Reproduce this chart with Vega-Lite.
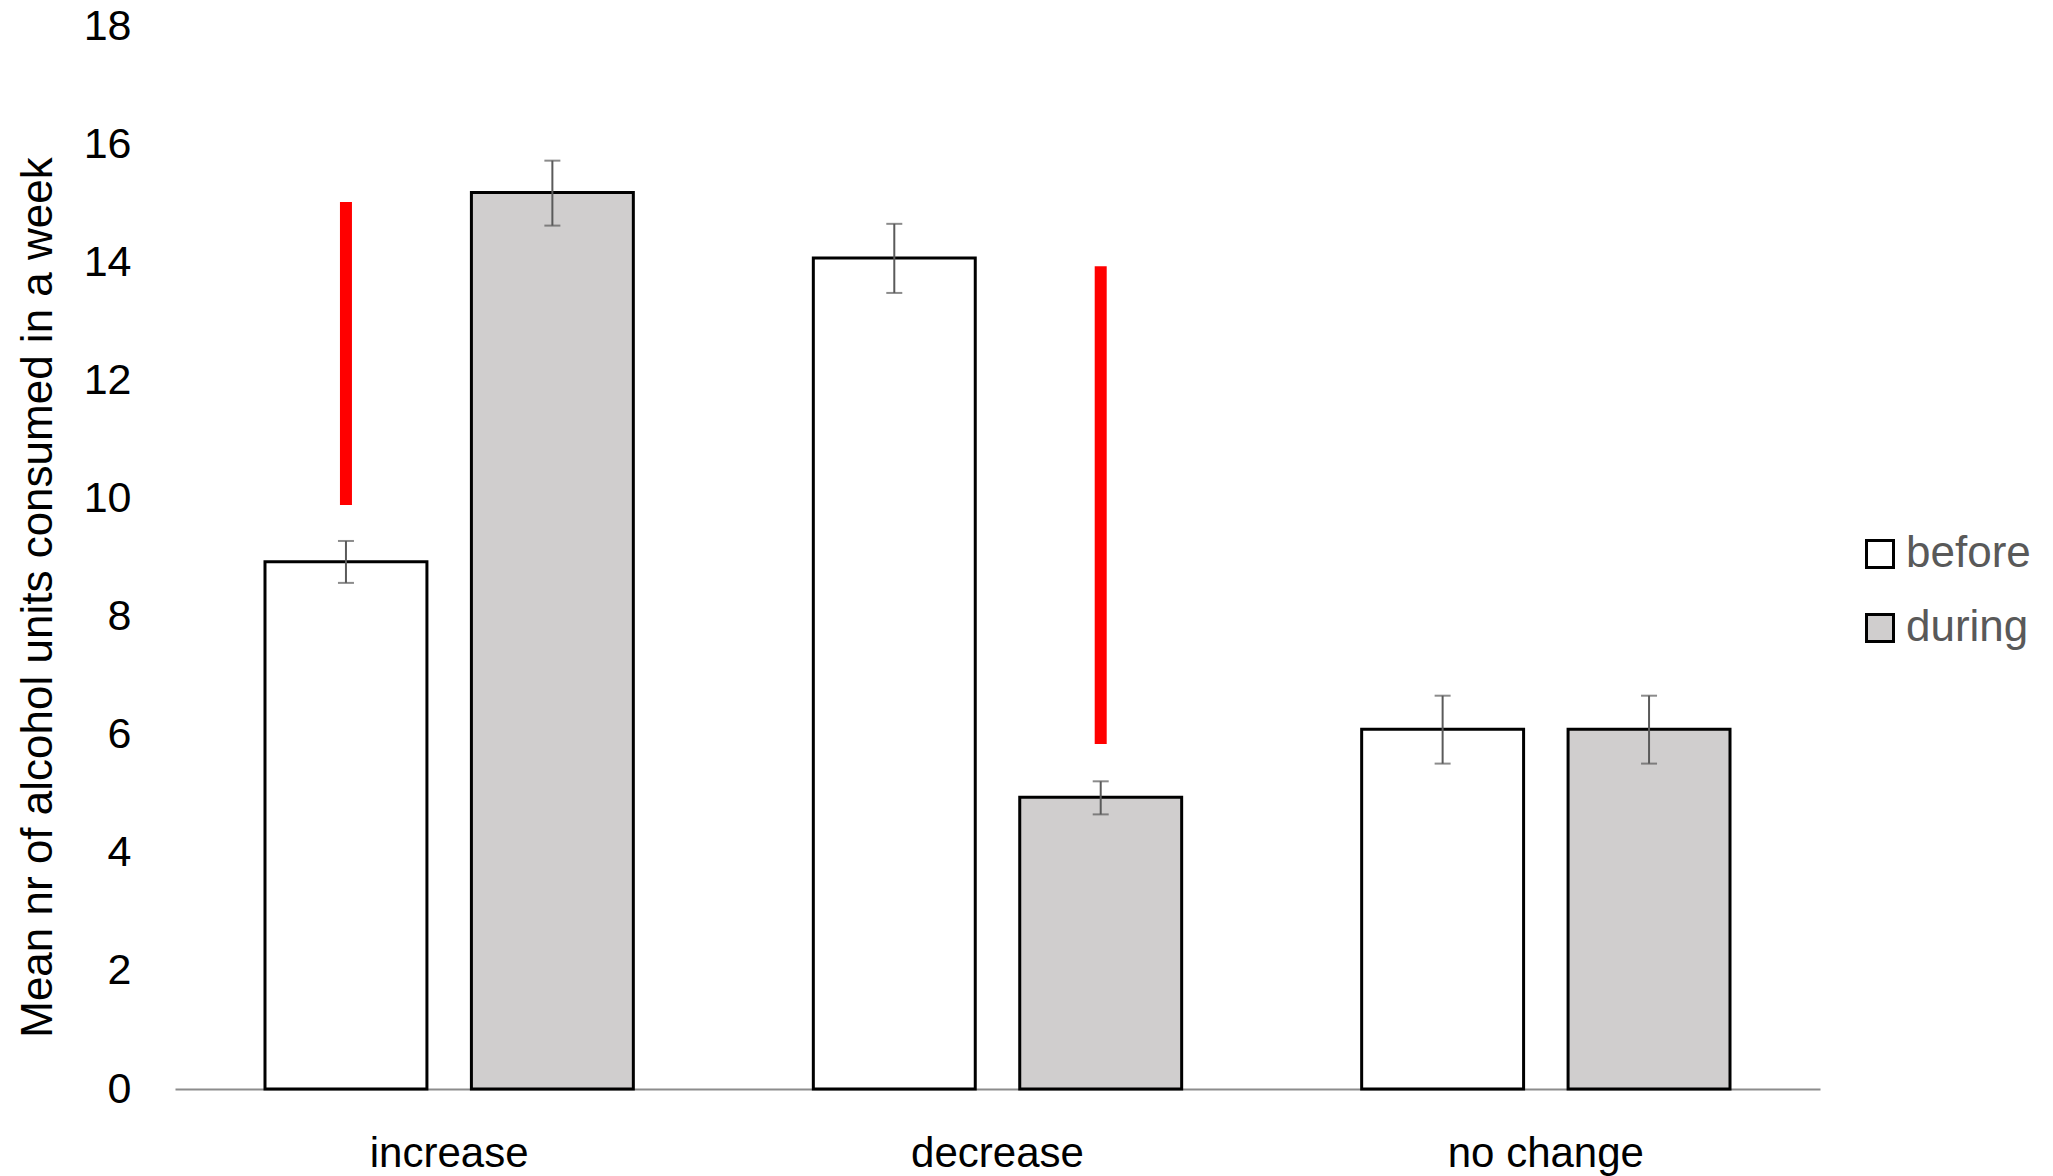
{
  "$schema": "https://vega.github.io/schema/vega-lite/v6.json",
  "width": 1645,
  "height": 1063,
  "autosize": {"type": "none"},
  "padding": {"left": 175, "top": 26, "right": 233, "bottom": 87},
  "background": "white",
  "config": {
    "view": {"stroke": null},
    "font": "Liberation Sans",
    "axis": {"labelFont": "Liberation Sans", "titleFont": "Liberation Sans", "grid": false, "ticks": false, "tickSize": 0}
  },
  "datasets": {
    "bars": [
      {"category": "increase", "group": "before", "value": 8.93, "lo": 8.57, "hi": 9.28},
      {"category": "increase", "group": "during", "value": 15.18, "lo": 14.62, "hi": 15.72},
      {"category": "decrease", "group": "before", "value": 14.07, "lo": 13.48, "hi": 14.65},
      {"category": "decrease", "group": "during", "value": 4.94, "lo": 4.65, "hi": 5.21},
      {"category": "no change", "group": "before", "value": 6.09, "lo": 5.51, "hi": 6.66},
      {"category": "no change", "group": "during", "value": 6.09, "lo": 5.51, "hi": 6.66}
    ],
    "arrows": [
      {"category": "increase", "group": "before", "start": 9.89, "end": 15.02},
      {"category": "decrease", "group": "during", "start": 5.84, "end": 13.93}
    ]
  },
  "encoding": {
    "x": {
      "field": "category",
      "type": "nominal",
      "sort": ["increase", "decrease", "no change"],
      "scale": {"paddingInner": 0, "paddingOuter": 0},
      "axis": {
        "title": null,
        "labelAngle": 0,
        "labelFontSize": 42,
        "labelColor": "black",
        "labelPadding": 44,
        "labelLimit": 0,
        "domain": true,
        "domainColor": "#8c8c8c",
        "domainWidth": 2
      }
    },
    "xOffset": {
      "field": "group",
      "type": "nominal",
      "sort": ["before", "during"],
      "scale": {"paddingInner": 0.2155, "paddingOuter": 0.436}
    }
  },
  "layer": [
    {
      "data": {"name": "bars"},
      "mark": {"type": "bar", "stroke": "black", "strokeWidth": 3},
      "encoding": {
        "y": {
          "field": "value",
          "type": "quantitative",
          "title": "Mean nr of alcohol units consumed in a week",
          "scale": {"domain": [0, 18], "nice": false},
          "axis": {
            "values": [0, 2, 4, 6, 8, 10, 12, 14, 16, 18],
            "format": "d",
            "domain": false,
            "labelFontSize": 43,
            "labelColor": "black",
            "labelPadding": 44,
            "titleFontSize": 44,
            "titleFontWeight": "normal",
            "titleColor": "black",
            "titlePadding": 23,
            "titleY": 571
          }
        },
        "color": {
          "field": "group",
          "type": "nominal",
          "sort": ["before", "during"],
          "scale": {"domain": ["before", "during"], "range": ["#ffffff", "#d0cece"]},
          "legend": {
            "title": null,
            "orient": "none",
            "legendX": 1683,
            "legendY": 506,
            "padding": 0,
            "symbolType": "square",
            "symbolSize": 729,
            "symbolStrokeColor": "black",
            "symbolStrokeWidth": 3,
            "symbolOpacity": 1,
            "labelFont": "Liberation Sans",
            "labelFontSize": 44,
            "labelColor": "#595959",
            "labelOffset": 4,
            "labelLimit": 0,
            "rowPadding": 30
          }
        }
      }
    },
    {
      "data": {"name": "bars"},
      "mark": {"type": "rule", "color": "#5a5a5a", "strokeWidth": 2},
      "encoding": {
        "y": {"field": "lo", "type": "quantitative", "title": "Mean nr of alcohol units consumed in a week"},
        "y2": {"field": "hi"}
      }
    },
    {
      "data": {"name": "bars"},
      "mark": {"type": "tick", "color": "#5a5a5a", "size": 16, "thickness": 2, "orient": "horizontal"},
      "encoding": {
        "y": {"field": "lo", "type": "quantitative", "title": "Mean nr of alcohol units consumed in a week"}
      }
    },
    {
      "data": {"name": "bars"},
      "mark": {"type": "tick", "color": "#5a5a5a", "size": 16, "thickness": 2, "orient": "horizontal"},
      "encoding": {
        "y": {"field": "hi", "type": "quantitative", "title": "Mean nr of alcohol units consumed in a week"}
      }
    },
    {
      "data": {"name": "arrows"},
      "mark": {"type": "rule", "color": "#ff0000", "strokeWidth": 12},
      "encoding": {
        "y": {"field": "start", "type": "quantitative", "title": "Mean nr of alcohol units consumed in a week"},
        "y2": {"field": "end"}
      }
    }
  ]
}
